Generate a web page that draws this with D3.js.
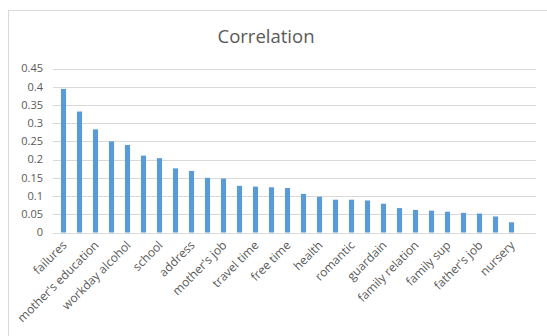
<!DOCTYPE html>
<html>
<head>
<meta charset="utf-8">
<script src="https://cdn.jsdelivr.net/npm/d3@7"></script>
<style>
  body { margin: 0; background: #fff; }
  svg text { font-family: "Open Sans", Lato, sans-serif; fill: #595959; }
</style>
</head>
<body>
<svg id="chart"></svg>
<script>
// features, sorted by correlation (only every other label is shown, like Excel does)
var features = ["failures", "higher education", "mother's education", "father's education",
    "workday alcohol", "age", "school", "weekend alcohol", "address", "going out",
    "mother's job", "study time", "travel time", "internet", "free time", "sex",
    "health", "reason", "romantic", "absences", "guardain", "paid", "family relation",
    "activities", "family sup", "family size", "father's job", "parent status", "nursery"];

var corr = [0.394, 0.332, 0.283, 0.250, 0.240, 0.211, 0.204, 0.176, 0.169, 0.150,
    0.148, 0.128, 0.126, 0.124, 0.122, 0.106, 0.098, 0.090, 0.090, 0.088,
    0.079, 0.067, 0.062, 0.060, 0.057, 0.054, 0.052, 0.044, 0.028];

var yTicks = [0, 0.05, 0.1, 0.15, 0.2, 0.25, 0.3, 0.35, 0.4, 0.45];

var width = 547,
    height = 336;

var svg = d3.select("#chart")
    .attr("width", width)
    .attr("height", height);

// chart border (runs off the right and bottom of the picture)
svg.append("rect")
    .attr("x", 8.5)
    .attr("y", 10.5)
    .attr("width", 560)
    .attr("height", 340)
    .style("fill", "none")
    .style("stroke", "#d9d9d9");

svg.append("text")
    .attr("x", 266)
    .attr("y", 43)
    .attr("text-anchor", "middle")
    .style("font-size", "18.5px")
    .text("Correlation");

var y = d3.scaleLinear()
    .domain([0, 0.45])
    .range([232.5, 68.5]);

var x = d3.scaleBand()
    .domain(features)
    .range([55.5, 519.5])
    .paddingInner(0.68)
    .paddingOuter(0.34);

// gridlines
svg.append("g")
    .selectAll("line")
    .data(yTicks)
    .enter()
    .append("line")
    .attr("x1", 53)
    .attr("x2", 536)
    .attr("y1", function (d) { return Math.round(y(d)) + 0.5; })
    .attr("y2", function (d) { return Math.round(y(d)) + 0.5; })
    .style("stroke", "#d9d9d9")
    .style("stroke-width", "1px");

// y tick labels
svg.append("g")
    .selectAll("text")
    .data(yTicks)
    .enter()
    .append("text")
    .attr("x", 43)
    .attr("y", function (d) { return y(d); })
    .attr("dy", "0.35em")
    .attr("text-anchor", "end")
    .style("font-size", "11px")
    .text(function (d) { return d3.format("~g")(d); });

svg.append("g")
    .selectAll("rect")
    .data(corr)
    .enter()
    .append("rect")
    .attr("x", function (d, i) { return x(features[i]); })
    .attr("y", function (d) { return y(d); })
    .attr("width", x.bandwidth())
    .attr("height", function (d) { return y(0) - y(d); })
    .style("fill", "#5b9bd5");

// category labels, every other one
svg.append("g")
    .selectAll("text")
    .data(features.filter(function (d, i) { return i % 2 === 0; }))
    .enter()
    .append("text")
    .attr("transform", function (d) {
        var cx = x(d) + x.bandwidth() / 2 + 4;
        return "translate(" + cx + ",246) rotate(-45)";
    })
    .attr("text-anchor", "end")
    .style("font-size", "12px")
    .text(function (d) { return d; });
</script>
</body>
</html>
